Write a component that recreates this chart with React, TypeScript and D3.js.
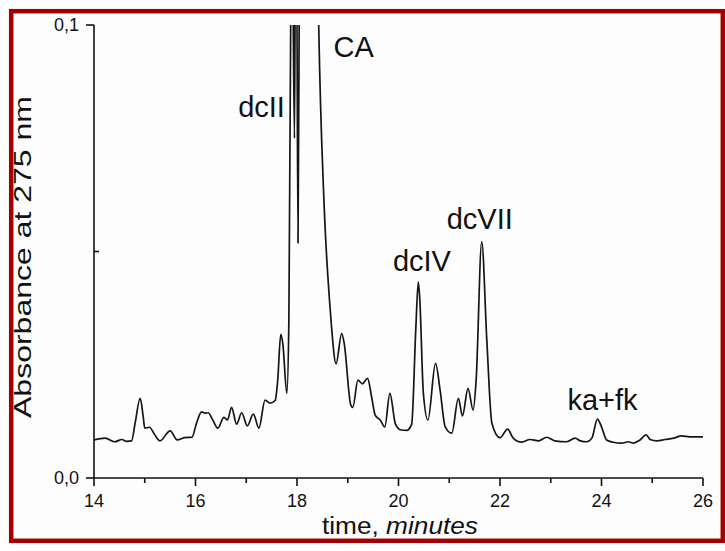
import React from "react";
import * as d3 from "d3";

// retention time (minutes) and absorbance at 275 nm
const times: number[] = [
  14.0, 14.22, 14.41, 14.55, 14.64, 14.74, 14.81, 14.91, 14.97, 15.0, 15.09, 15.2, 15.3, 15.5, 15.64, 15.79, 15.93,
  16.02, 16.12, 16.19, 16.25, 16.34, 16.44, 16.56, 16.63, 16.71, 16.81, 16.91, 17.02, 17.14, 17.25, 17.37, 17.47,
  17.57, 17.62, 17.68, 17.72, 17.8, 17.84, 17.876, 17.897, 17.927, 17.95, 17.97, 17.99, 18.02, 18.05, 18.25, 18.42,
  18.53, 18.64, 18.68, 18.77, 18.88, 18.93, 19.06, 19.1, 19.2, 19.29, 19.39, 19.47, 19.54, 19.64, 19.73, 19.83,
  19.94, 20.05, 20.16, 20.26, 20.34, 20.39, 20.42, 20.49, 20.58, 20.73, 20.82, 20.92, 21.05, 21.18, 21.26, 21.37,
  21.47, 21.53, 21.64, 21.74, 21.84, 22.0, 22.15, 22.26, 22.43, 22.59, 22.76, 22.92, 23.08, 23.31, 23.48, 23.58,
  23.71, 23.81, 23.92, 24.0, 24.1, 24.23, 24.4, 24.53, 24.63, 24.76, 24.88, 24.96, 25.09, 25.25, 25.42, 25.58,
  25.74, 26.0,
];
const absorbance: number[] = [
  0.0084, 0.0088, 0.008, 0.0085, 0.0081, 0.0082, 0.0121, 0.0176, 0.0135, 0.011, 0.0112, 0.0095, 0.0082, 0.0104, 0.0084, 0.0089, 0.009,
  0.0121, 0.0146, 0.0143, 0.0144, 0.0128, 0.011, 0.0134, 0.0128, 0.0156, 0.0119, 0.0144, 0.0115, 0.0141, 0.011, 0.0172, 0.0165,
  0.0171, 0.0216, 0.0317, 0.0297, 0.0187, 0.0349, 0.1, 0.16, 0.1, 0.075, 0.12, 0.12, 0.0519, 0.12, 0.3, 0.105,
  0.0614, 0.0393, 0.0334, 0.0252, 0.0319, 0.0297, 0.0161, 0.0156, 0.0216, 0.0208, 0.022, 0.0179, 0.0139, 0.0128, 0.0113, 0.0187,
  0.0119, 0.0106, 0.0105, 0.0119, 0.0327, 0.0433, 0.0393, 0.0187, 0.0128, 0.0253, 0.0194, 0.0113, 0.0099, 0.0176, 0.0137, 0.0198,
  0.015, 0.0216, 0.0522, 0.0305, 0.0121, 0.0089, 0.0108, 0.0088, 0.0079, 0.0085, 0.0082, 0.009, 0.0082, 0.008, 0.0088, 0.0082,
  0.008, 0.0088, 0.013, 0.0113, 0.0084, 0.0079, 0.0077, 0.008, 0.0077, 0.0084, 0.0095, 0.0085, 0.0082, 0.0085, 0.0088, 0.0093,
  0.0091, 0.0091,
];

const xMajorTicks: number[] = [14, 16, 18, 20, 22, 24, 26];
const xMinorTicks: number[] = [15, 17, 19, 21, 23, 25];
const yMajorTicks: number[] = [0, 0.1];
const yTickLabels: string[] = ["0,0", "0,1"];
const yMinorTicks: number[] = [0.05];

const peakNames: string[] = ["dcII", "CA", "dcIV", "dcVII", "ka+fk"];
const peakLabelTimes: number[] = [16.84, 18.72, 19.89, 20.95, 23.33];
const peakLabelValues: number[] = [0.0798, 0.0929, 0.0458, 0.0549, 0.0150];

export default function App() {
  const W = 725;
  const H = 551;
  const x = d3.scaleLinear().domain([14, 26]).range([94, 703]);
  const y = d3.scaleLinear().domain([0, 0.1]).range([478, 25]);
  const pts: [number, number][] = times.map((t, i) => [t, absorbance[i]]);
  const line = d3
    .line<[number, number]>()
    .x((d) => x(d[0]))
    .y((d) => y(d[1]))
    .curve(d3.curveMonotoneX);
  const font = "'Liberation Sans', Arial, Helvetica, sans-serif";
  const [x0, x1] = x.range();
  const [y0, y1] = y.range();
  return (
    <svg width={W} height={H} style={{ position: "absolute", left: 0, top: 0, background: "#fff" }} fontFamily={font}>
      <rect x={0} y={0} width={W} height={H} fill="#fff" />
      <rect x={11.2} y={11.2} width={711.6} height={529.6} fill="#fdfdfd" stroke="#a30000" strokeWidth={4.5} />
      <defs>
        <clipPath id="plotclip">
          <rect x={x0} y={y1} width={x1 - x0 + 2} height={y0 - y1} />
        </clipPath>
      </defs>
      <path d={line(pts) || ""} fill="none" stroke="#151515" strokeWidth={1.7} clipPath="url(#plotclip)" strokeLinejoin="round" />
      {/* axes */}
      <line x1={x0} x2={x1} y1={y0} y2={y0} stroke="#111" strokeWidth={1.6} />
      <line x1={x0} x2={x0} y1={y0} y2={y1} stroke="#111" strokeWidth={1.6} />
      {xMajorTicks.map((t) => (
        <g key={"xm" + t}>
          <line x1={x(t)} x2={x(t)} y1={y0} y2={y0 + 8} stroke="#111" strokeWidth={1.6} />
          <text x={x(t)} y={y0 + 29} textAnchor="middle" fontSize={18} fill="#111">
            {t}
          </text>
        </g>
      ))}
      {xMinorTicks.map((t) => (
        <line key={"xn" + t} x1={x(t)} x2={x(t)} y1={y0} y2={y0 + 5} stroke="#111" strokeWidth={1.6} />
      ))}
      {yMajorTicks.map((v, i) => (
        <g key={"ym" + v}>
          <line x1={x0 - 8} x2={x0} y1={y(v)} y2={y(v)} stroke="#111" strokeWidth={1.6} />
          <text x={x0 - 15} y={y(v) + 6} textAnchor="end" fontSize={18} fill="#111">
            {yTickLabels[i]}
          </text>
        </g>
      ))}
      {yMinorTicks.map((v) => (
        <line key={"yn" + v} x1={x0} x2={x0 + 5} y1={y(v)} y2={y(v)} stroke="#111" strokeWidth={1.6} />
      ))}
      {/* axis titles */}
      <text x={400} y={534} textAnchor="middle" fontSize={23} textLength={156} lengthAdjust="spacingAndGlyphs" fill="#111">
        time, <tspan fontStyle="italic">minutes</tspan>
      </text>
      <text
        transform={`translate(31,257) rotate(-90)`}
        textAnchor="middle"
        fontSize={24}
        textLength={322}
        lengthAdjust="spacingAndGlyphs"
        fill="#111"
      >
        Absorbance at 275 nm
      </text>
      {/* peak labels */}
      {peakNames.map((n, i) => (
        <text key={n} x={x(peakLabelTimes[i])} y={y(peakLabelValues[i])} fontSize={29} fill="#111">
          {n}
        </text>
      ))}
    </svg>
  );
}
